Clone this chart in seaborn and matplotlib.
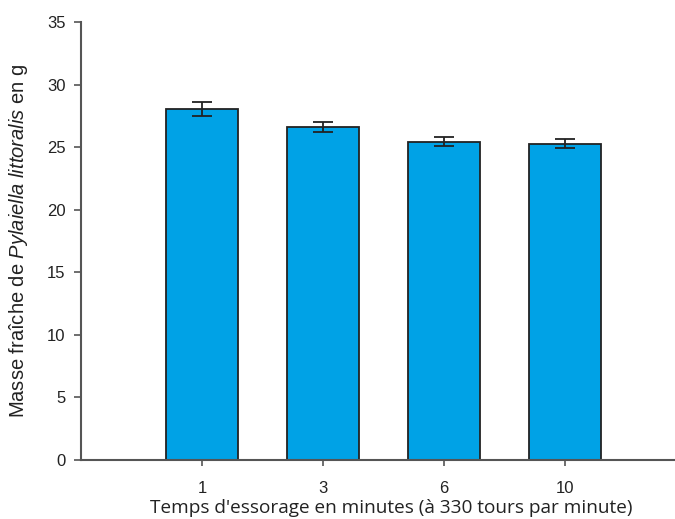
import matplotlib
matplotlib.use("Agg")
import matplotlib.pyplot as plt
import seaborn as sns
import pandas as pd

# Spin-drying duration (minutes) and fresh mass of Pylaiella littoralis (g)
durations = ["1", "3", "6", "10"]
fresh_mass = [28.05, 26.58, 25.45, 25.28]
mass_err = [0.55, 0.40, 0.38, 0.34]
y_ticks = [0, 5, 10, 15, 20, 25, 30, 35]

sns.set_theme(style="white")
plt.rcParams["font.family"] = ["Liberation Sans", "DejaVu Sans"]
plt.rcParams["mathtext.fontset"] = "custom"
plt.rcParams["mathtext.rm"] = "Liberation Sans"
plt.rcParams["mathtext.it"] = "Liberation Sans:italic"

df = pd.DataFrame({"duree": durations, "masse": fresh_mass})

fig = plt.figure(figsize=(6.75, 5.19), dpi=100)
ax = fig.add_axes([81 / 675, 59 / 519, 594 / 675, 438 / 519])

sns.barplot(data=df, x="duree", y="masse", order=durations, color="#00A2E6",
            saturation=1, width=0.6, edgecolor="#222222", linewidth=1.3,
            errorbar=None, ax=ax)
ax.errorbar(range(len(durations)), fresh_mass, yerr=mass_err, fmt="none",
            ecolor="#222222", elinewidth=1.3, capsize=7, capthick=1.3)

ax.set_ylim(0, 35)
ax.set_yticks(y_ticks)
ax.set_xlim(-1.0, 3.91)
for side in ("top", "right"):
    ax.spines[side].set_visible(False)
for side in ("left", "bottom"):
    ax.spines[side].set_color("#555555")
    ax.spines[side].set_linewidth(1.5)

ax.tick_params(axis="both", direction="out", colors="#555555", labelcolor="#222222",
               labelsize=12, width=1.2)
ax.tick_params(axis="y", length=5, left=True, pad=6)
ax.tick_params(axis="x", length=4, bottom=True, pad=11)

ax.set_ylabel(r"Masse fraîche de $\mathit{Pylaiella\ littoralis}$ en g",
              fontsize=14.5, color="#222222", labelpad=12)
ax.set_xlabel("Temps d'essorage en minutes (à 330 tours par minute)",
              fontsize=13.7, color="#222222", family="Open Sans")
ax.xaxis.set_label_coords(0.523, -0.088)

fig.savefig("out.png", dpi=100)
